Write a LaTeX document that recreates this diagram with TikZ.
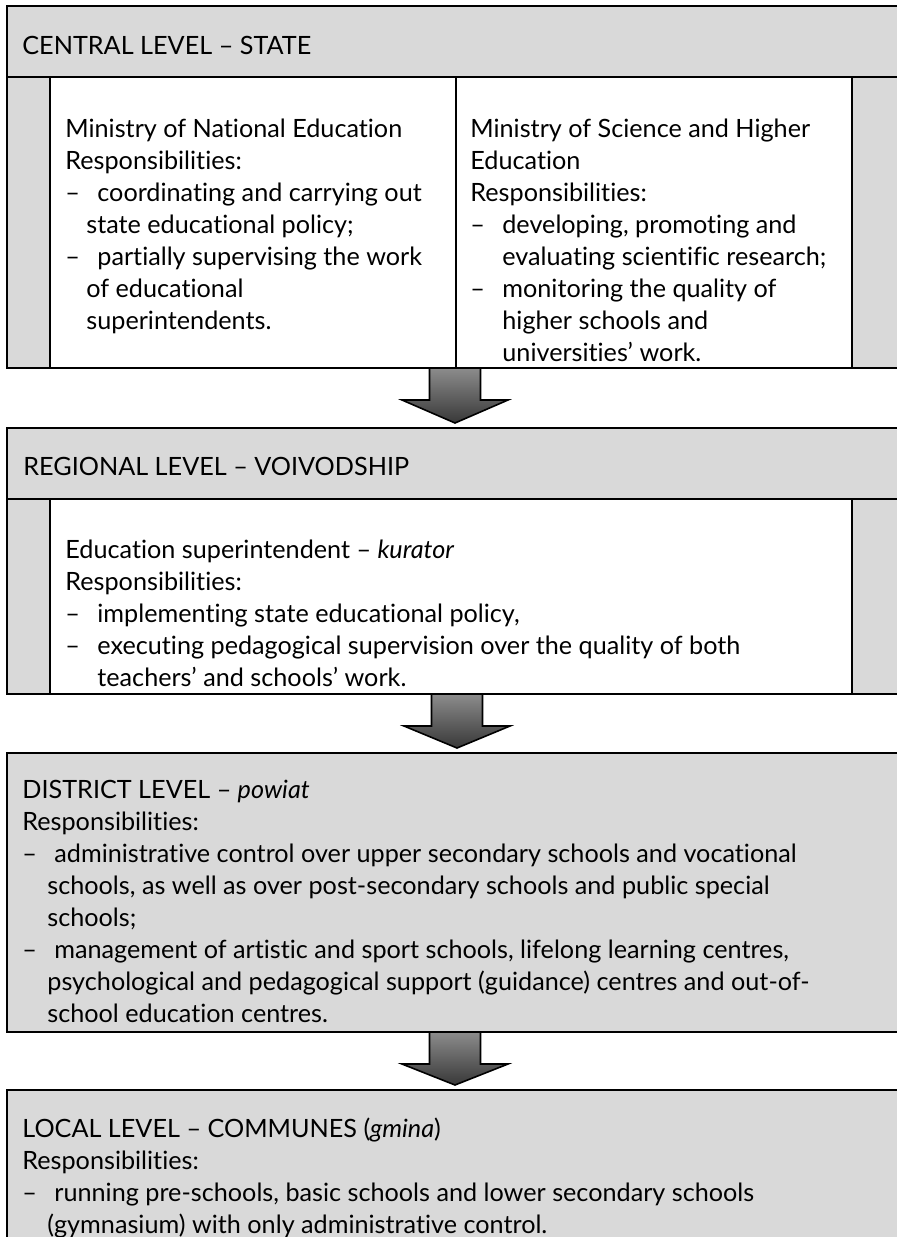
\documentclass[tikz,border=0pt]{standalone}
\usepackage{fontspec}
\setmainfont{Lato}[Ligatures={TeX,NoCommon}]
\usetikzlibrary{calc}

\definecolor{levelgrey}{HTML}{D9D9D9}
\definecolor{arrowtop}{HTML}{8C8C8C}
\definecolor{arrowbot}{HTML}{383838}

\newcommand\levelfont{\fontsize{12.6pt}{16pt}\selectfont}
\newcommand\itemdash{\makebox[16pt][l]{–}}
\newcommand\contline[1][16pt]{\hspace*{#1}}
% block arrow between two levels: from bottom of one box to top of the next
\newcommand\flowarrow[2]{%
  \draw[flow] ($(#1)+(-25.5,0)$) -- ($(#1)+(25.5,0)$) -- ($(#1)+(25.5,32)$)
    -- ($(#1)+(53,32)$) -- ($(#2)+(0,-5)$) -- ($(#1)+(-53,32)$)
    -- ($(#1)+(-25.5,32)$) -- cycle;}

\tikzset{
  frame/.style={fill=levelgrey, draw=black, line width=1pt},
  panel/.style={fill=white, draw=black, line width=1pt},
  flow/.style={draw=black, line width=0.8pt, top color=arrowtop, bottom color=arrowbot},
  levelhead/.style={anchor=base west, inner sep=0pt, font=\levelfont},
  % base of a multi-line block = baseline of its last line
  textblock/.style={anchor=base west, inner sep=0pt, align=left, font=\levelfont}
}

\begin{document}
\begin{tikzpicture}[x=0.5pt,y=-0.5pt]
\useasboundingbox (0,0) rectangle (897,1237);
\clip (0,0) rectangle (897,1237);

% central level
\filldraw[frame] (7,6) rectangle (905,368);
\draw[frame] (7,77) -- (905,77);
\filldraw[panel] (50,77) rectangle (456,368);
\filldraw[panel] (456,77) rectangle (852,368);
\node[levelhead] (centralhead) at (22,54) {CENTRAL LEVEL – STATE};
\node[textblock] (mne) at (65,329) {Ministry of National Education\\
  Responsibilities:\\
  \itemdash coordinating and carrying out\\
  \contline[10.5pt]state educational policy;\\
  \itemdash partially supervising the work\\
  \contline[10.5pt]of educational\\
  \contline[10.5pt]superintendents.};
\node[textblock] (msh) at (470,361) {Ministry of Science and Higher\\
  Education\\
  Responsibilities:\\
  \itemdash developing, promoting and\\
  \contline evaluating scientific research;\\
  \itemdash monitoring the quality of\\
  \contline higher schools and\\
  \contline universities’ work.};
\coordinate (centralout) at (455,368);

% regional level
\filldraw[frame] (7,428) rectangle (905,694);
\draw[frame] (7,499) -- (905,499);
\filldraw[panel] (50,499) rectangle (852,694);
\node[levelhead] (regionalhead) at (23,475) {REGIONAL LEVEL – VOIVODSHIP};
\node[textblock] (kurator) at (65,686) {Education superintendent – \textit{kurator}\\
  Responsibilities:\\
  \itemdash implementing state educational policy,\\
  \itemdash executing pedagogical supervision over the quality of both\\
  \contline teachers’ and schools’ work.};
\coordinate (regionalin) at (455,428);
\coordinate (regionalout) at (457,694);

% district level
\filldraw[frame] (7,753) rectangle (905,1032);
\node[textblock] (powiat) at (22,1022) {DISTRICT LEVEL – \textit{powiat}\\
  Responsibilities:\\
  \itemdash administrative control over upper secondary schools and vocational\\
  \contline[12.5pt]schools, as well as over post-secondary schools and public special\\
  \contline[12.5pt]schools;\\
  \itemdash management of artistic and sport schools, lifelong learning centres,\\
  \contline[12.5pt]psychological and pedagogical support (guidance) centres and out-of-\\
  \contline[12.5pt]school education centres.};
\coordinate (districtin) at (457,753);
\coordinate (districtout) at (455,1032);

% local level
\filldraw[frame] (7,1090) rectangle (905,1260);
\node[textblock] (gmina) at (22,1233) {LOCAL LEVEL – COMMUNES (\textit{gmina})\\
  Responsibilities:\\
  \itemdash running pre-schools, basic schools and lower secondary schools\\
  \contline[12.5pt](gymnasium) with only administrative control.};
\coordinate (localin) at (455,1090);

\flowarrow{centralout}{regionalin}
\flowarrow{regionalout}{districtin}
\flowarrow{districtout}{localin}
\end{tikzpicture}
\end{document}
